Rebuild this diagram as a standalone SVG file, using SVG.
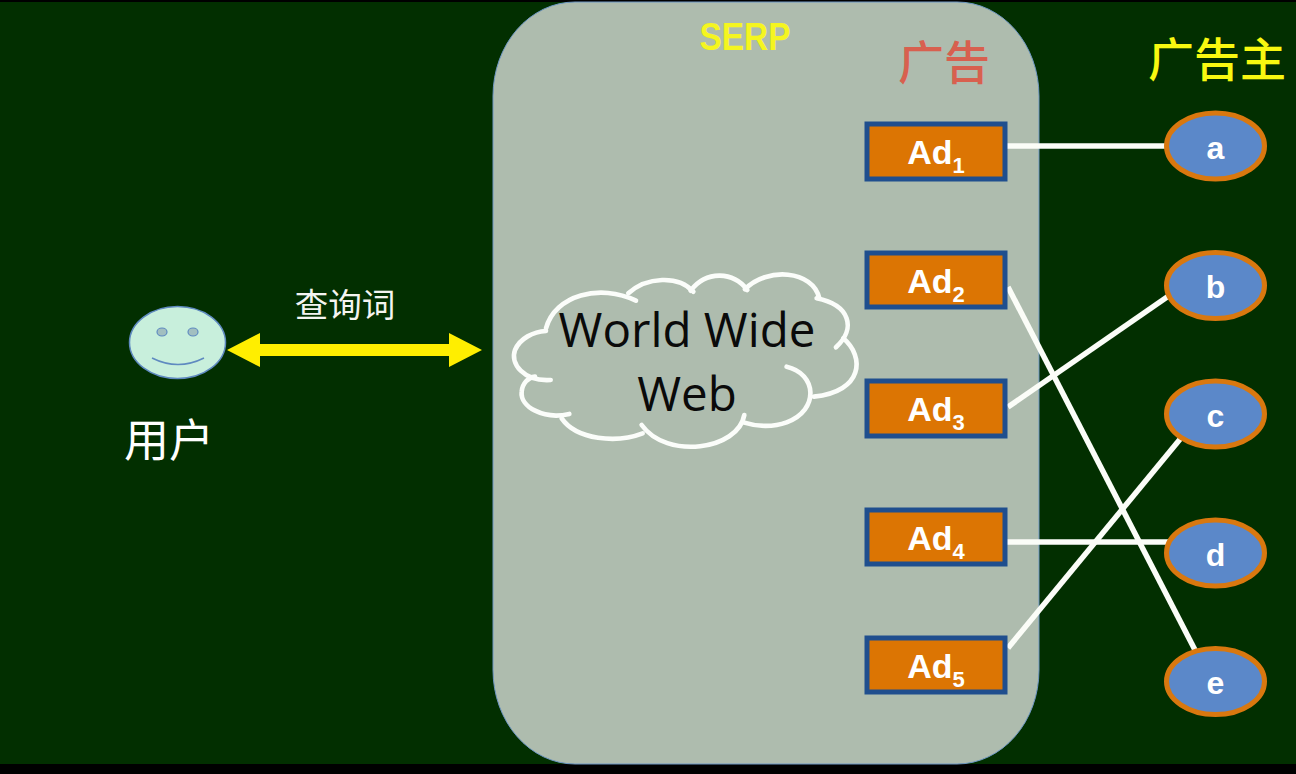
<svg xmlns="http://www.w3.org/2000/svg" width="1296" height="774" viewBox="0 0 1296 774">
<style>
.ad rect{fill:#dc7503;stroke:#1f4e8e;stroke-width:5}
.ad text{font:bold 34px "Liberation Sans",Arial,sans-serif;fill:#fff;text-anchor:middle}
.ad tspan{font-size:22px}
.adv ellipse{fill:#5b88c9;stroke:#d9780f;stroke-width:5}
.adv text{font:bold 32px "Liberation Sans",Arial,sans-serif;fill:#fff;text-anchor:middle}
.cjk{font-family:"Noto Sans CJK SC","Liberation Sans",sans-serif}
.link{stroke:#fbfdf8;stroke-width:5.500;fill:none}
.www{font:47.500px "Open Sans","Noto Sans",sans-serif;fill:#0a0a0a;text-anchor:middle}
</style>
<rect width="1296" height="774" fill="#000"/>
<rect y="2" width="1296" height="762" fill="#022f00"/>
<g id="serp">
<rect x="493" y="2" width="546" height="762" rx="82" ry="94" fill="#aebcae" stroke="#6f97c4" stroke-width="1"/>
<text x="745" y="50" font-family="Liberation Sans" font-weight="bold" font-size="38" fill="#f5f520" text-anchor="middle" textLength="91" lengthAdjust="spacingAndGlyphs">SERP</text>
</g>
<text id="ads-title" class="cjk" x="944" y="79" font-size="46" font-weight="500" fill="#d8604f" text-anchor="middle">广告</text>
<text id="advertisers-title" class="cjk" x="1217" y="76" font-size="46" font-weight="500" fill="#f8f810" text-anchor="middle">广告主</text>
<g id="connectors">
<line class="link" x1="1007" y1="146" x2="1168" y2="146"/>
<line class="link" x1="1008" y1="287" x2="1195" y2="650"/>
<line class="link" x1="1008" y1="407" x2="1170" y2="295"/>
<line class="link" x1="1007" y1="542" x2="1170" y2="542"/>
<line class="link" x1="1008" y1="648" x2="1181" y2="438"/>
<polygon id="query-arrow" fill="#ffee00" points="227,350 260,333 260,344 449,344 449,333 482,350 449,367 449,356 260,356 260,367"/>
</g>
<g id="user">
<ellipse cx="177.500" cy="342.500" rx="48" ry="36" fill="#c8efdc" stroke="#5f8ac0" stroke-width="1.500"/>
<ellipse cx="162" cy="332" rx="5" ry="4" fill="#a2bfc0" stroke="#5f8ac0" stroke-width="1.200"/>
<ellipse cx="193" cy="332" rx="5" ry="4" fill="#a2bfc0" stroke="#5f8ac0" stroke-width="1.200"/>
<path d="M152 358Q178 371 204 358" fill="none" stroke="#5f8ac0" stroke-width="1.500"/>
<text class="cjk" x="169" y="457" font-size="45" fill="#fff" text-anchor="middle">用户</text>
</g>
<text id="query-label" class="cjk" x="345" y="317" font-size="33.500" fill="#f4f4f0" text-anchor="middle">查询词</text>
<g id="cloud">
<g transform="translate(500 260) scale(.3333)" fill="none" stroke="#fbfdfa" stroke-width="14" stroke-linecap="round">
<path d="M138 205C165 105 300 70 408 122"/>
<path d="M385 100C440 50 535 45 580 95"/>
<path d="M572 92C620 30 700 35 742 90"/>
<path d="M735 88C800 20 940 30 958 115"/>
<path d="M950 115C1050 135 1070 205 1008 262"/>
<path d="M1030 235C1095 290 1090 395 942 410"/>
<path d="M860 320C950 340 960 450 860 487C820 502 770 500 733 488"/>
<path d="M733 465C715 570 500 600 425 495"/>
<path d="M428 520C350 550 230 540 185 475"/>
<path d="M208 462C130 480 60 440 65 395C67 370 85 352 105 350"/>
<path d="M152 360C70 365 30 310 45 270C60 235 100 215 138 213"/>
</g>
<text class="www" x="687" y="347">World Wide</text>
<text class="www" x="687" y="411">Web</text>
</g>
<g id="ad1" class="ad"><rect x="867" y="124" width="138" height="55"/><text x="936" y="164">Ad<tspan dy="9">1</tspan></text></g>
<g id="ad2" class="ad"><rect x="867" y="253" width="138" height="54"/><text x="936" y="293">Ad<tspan dy="9">2</tspan></text></g>
<g id="ad3" class="ad"><rect x="867" y="381" width="138" height="55"/><text x="936" y="421">Ad<tspan dy="9">3</tspan></text></g>
<g id="ad4" class="ad"><rect x="867" y="510" width="138" height="54"/><text x="936" y="550">Ad<tspan dy="9">4</tspan></text></g>
<g id="ad5" class="ad"><rect x="867" y="638" width="138" height="54"/><text x="936" y="678">Ad<tspan dy="9">5</tspan></text></g>
<g id="a" class="adv"><ellipse cx="1215.500" cy="146" rx="49" ry="33"/><text x="1215.500" y="159">a</text></g>
<g id="b" class="adv"><ellipse cx="1215.500" cy="285.500" rx="49" ry="33"/><text x="1215.500" y="298">b</text></g>
<g id="c" class="adv"><ellipse cx="1215.500" cy="414" rx="49" ry="33"/><text x="1215.500" y="427">c</text></g>
<g id="d" class="adv"><ellipse cx="1215.500" cy="553" rx="49" ry="33"/><text x="1215.500" y="566">d</text></g>
<g id="e" class="adv"><ellipse cx="1215.500" cy="681.500" rx="49" ry="33"/><text x="1215.500" y="694">e</text></g>
</svg>
